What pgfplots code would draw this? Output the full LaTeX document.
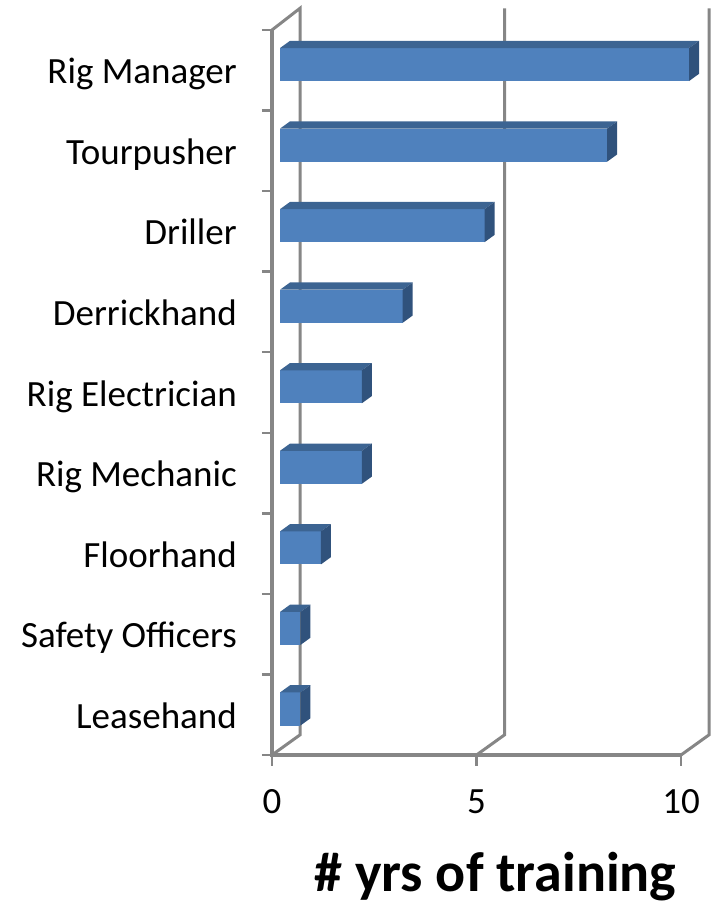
\documentclass[border=0pt]{standalone}
\usepackage{fontspec}
\setmainfont{Carlito}
\usepackage{pgfplots}
\pgfplotsset{compat=1.18}
\definecolor{gridc}{RGB}{134,134,134}
\definecolor{barfront}{RGB}{79,129,189}
\definecolor{bartop}{RGB}{60,100,146}
\definecolor{barside}{RGB}{48,82,124}
\begin{document}
\begin{tikzpicture}
\begin{axis}[
  name=ax,
  scale only axis, width=409pt, height=725pt,
  xmin=0, xmax=10, ymin=0, ymax=9,
  clip=false,
  axis line style={draw=none},
  major tick length=0pt,
  /pgf/number format/assume math mode=true,
  xtick={0,5,10}, xticklabels={0,5,10},
  ytick={0.5,1.5,...,8.5},
  yticklabels={Leasehand, Safety Officers, Floorhand, Rig Mechanic, Rig Electrician, Derrickhand, Driller, Tourpusher, Rig Manager},
  xticklabel style={font=\fontsize{37}{42}\selectfont, anchor=base, inner sep=0pt, yshift=-58pt},
  yticklabel style={font=\fontsize{37}{44}\selectfont, anchor=base east, inner sep=0pt, xshift=-35pt, yshift=-13.5pt},
  xlabel={\# yrs of training},
  xlabel style={font=\fontsize{56}{64}\selectfont\bfseries, at={(axis description cs:0.5,0)}, anchor=base, inner sep=0pt, xshift=19pt, yshift=-136pt},
]
% back wall / floor lines
\addplot[gridc, line width=3pt] coordinates {(0,0) (0.685,0.25) (0.685,9.27) (0,9)};
\addplot[gridc, line width=3pt] coordinates {(5,0) (5.685,0.25) (5.685,9.27)};
\addplot[gridc, line width=3pt] coordinates {(10,0) (10.685,0.25) (10.685,9.27)};
% front axis lines
\addplot[gridc, line width=3.5pt] coordinates {(0,9) (0,0) (10,0)};
% tick marks
\pgfplotsinvokeforeach{0,...,9}{
  \addplot[gridc, line width=2.5pt] coordinates {(-0.2445,#1) (0,#1)};
}
\pgfplotsinvokeforeach{0,5,10}{
  \addplot[gridc, line width=2.5pt] coordinates {(#1,0) (#1,-0.1366)};
}
% bars (index / value)
\foreach \i/\v in {0/0.5,1/0.5,2/1,3/2,4/2,5/3,6/5,7/8,8/10}{
  \pgfmathsetmacro\xa{0.196}
  \pgfmathsetmacro\xb{\v+0.196}
  \pgfmathsetmacro\xc{\xb+0.245}
  \pgfmathsetmacro\xd{\xa+0.245}
  \pgfmathsetmacro\ya{\i+0.5+0.071-0.205}
  \pgfmathsetmacro\yb{\i+0.5+0.071+0.205}
  \pgfmathsetmacro\yc{\yb+0.09}
  \pgfmathsetmacro\ye{\ya+0.09}
  \edef\tmp{%
    \noexpand\addplot[fill=barfront, draw=none] coordinates {(\xa,\ya) (\xb,\ya) (\xb,\yb) (\xa,\yb)} -- cycle;
    \noexpand\addplot[fill=bartop, draw=none] coordinates {(\xa,\yb) (\xb,\yb) (\xc,\yc) (\xd,\yc)} -- cycle;
    \noexpand\addplot[fill=barside, draw=none] coordinates {(\xb,\ya) (\xc,\ye) (\xc,\yc) (\xb,\yb)} -- cycle;
  }
  \tmp
}
\end{axis}
\pgfresetboundingbox
\path[use as bounding box] ([xshift=-272pt,yshift=-152pt]ax.south west) rectangle ([xshift=443pt,yshift=755pt]ax.south west);
\end{tikzpicture}
\end{document}
